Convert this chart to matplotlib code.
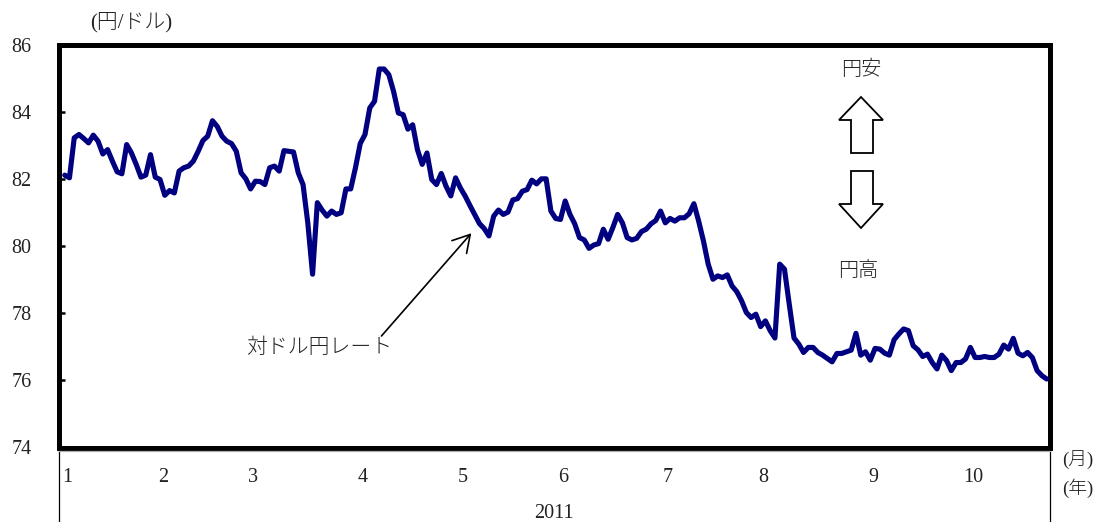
import matplotlib
matplotlib.use("Agg")
import matplotlib.pyplot as plt
from matplotlib.patches import Polygon
from matplotlib.lines import Line2D
from matplotlib.transforms import blended_transform_factory

# Daily yen per US dollar rate, Jan - Oct 2011 (one value per trading day)
rate = [
    82.11, 82.03, 83.22, 83.32, 83.20, 83.07, 83.30, 83.12, 82.74, 82.87,
    82.53, 82.21, 82.15, 83.02, 82.77, 82.43, 82.05, 82.11, 82.72, 82.05,
    81.98, 81.51, 81.65, 81.58, 82.23, 82.33, 82.38, 82.53, 82.82, 83.14,
    83.27, 83.73, 83.56, 83.27, 83.12, 83.05, 82.82, 82.18, 82.00, 81.70,
    81.93, 81.92, 81.83, 82.33, 82.38, 82.23, 82.84, 82.82, 82.80, 82.18,
    81.83, 80.69, 79.16, 81.29, 81.07, 80.89, 81.04, 80.94, 80.99, 81.70,
    81.70, 82.33, 83.05, 83.32, 84.11, 84.31, 85.27, 85.27, 85.10, 84.60,
    83.96, 83.91, 83.48, 83.61, 82.87, 82.43, 82.77, 81.98, 81.83, 82.16,
    81.78, 81.49, 82.03, 81.73, 81.49, 81.21, 80.94, 80.67, 80.52, 80.30,
    80.89, 81.07, 80.94, 81.01, 81.37, 81.41, 81.63, 81.68, 81.96, 81.85,
    82.00, 82.00, 81.04, 80.82, 80.79, 81.34, 80.94, 80.66, 80.25, 80.18,
    79.93, 80.03, 80.07, 80.50, 80.20, 80.55, 80.94, 80.69, 80.25, 80.18,
    80.23, 80.43, 80.50, 80.66, 80.76, 81.04, 80.69, 80.82, 80.74, 80.84,
    80.84, 80.96, 81.26, 80.74, 80.15, 79.46, 79.01, 79.11, 79.06, 79.14,
    78.81, 78.64, 78.37, 78.02, 77.87, 77.97, 77.60, 77.77, 77.48, 77.26,
    79.46, 79.31, 78.27, 77.26, 77.08, 76.83, 76.98, 76.98, 76.83, 76.75,
    76.65, 76.55, 76.80, 76.80, 76.85, 76.90, 77.40, 76.75, 76.85, 76.60,
    76.95, 76.93, 76.81, 76.75, 77.21, 77.38, 77.53, 77.48, 77.03, 76.91,
    76.71, 76.78, 76.53, 76.34, 76.75, 76.59, 76.29, 76.53, 76.53, 76.64,
    76.98, 76.68, 76.68, 76.71, 76.68, 76.68, 76.78, 77.05, 76.93, 77.25,
    76.81, 76.73, 76.83, 76.68, 76.29, 76.14, 76.04,
]

# First trading day of each month (index into rate) and its label
month_start = [0, 20, 39, 62, 83, 104, 126, 146, 169, 190]
month_labels = ["1", "2", "3", "4", "5", "6", "7", "8", "9", "10"]
year_label = "2011"
y_ticks = [74, 76, 78, 80, 82, 84, 86]

plt.rcParams["font.family"] = ["Liberation Serif", "Noto Sans CJK JP"]

W, H = 1110, 522
fig = plt.figure(figsize=(W / 100, H / 100), dpi=100)


def fx(px):
    return px / W


def fy(py):
    return 1 - py / H


TEXT = "#222222"
JP = dict(color=TEXT, fontweight="light")

ax = fig.add_axes([fx(58.5), fy(447.5), (1049.5 - 58.5) / W, (447.5 - 44.5) / H])
days = list(range(len(rate)))
ax.plot(days, rate, color="#000080", lw=3.7,
        solid_joinstyle="round", solid_capstyle="round", zorder=3)
ax.set_xlim(-1.3, len(rate) - 1 + 0.6)
ax.set_ylim(74, 86)
ax.set_yticks(y_ticks)
ax.set_yticklabels([str(t) for t in y_ticks])
ax.tick_params(axis="y", direction="in", length=4.5, width=1.8, pad=19.5,
               labelsize=14.5, colors="black", labelcolor=TEXT)
ax.set_xticks([])
for sp in ax.spines.values():
    sp.set_linewidth(3.6)
    sp.set_color("black")

# Month labels under the plot area
tx = blended_transform_factory(ax.transData, fig.transFigure)
for d, lab in zip(month_start, month_labels):
    ax.text(d + 0.6, fy(478), lab, transform=tx, ha="center", va="center",
            fontsize=14.5, color=TEXT)

ta = blended_transform_factory(ax.transAxes, fig.transFigure)
ax.text(0.5, fy(513), year_label, transform=ta, ha="center", va="center",
        fontsize=14.5, color=TEXT)

# Category group separators and the axis line below the frame
fig.add_artist(Line2D([fx(58.5), fx(58.5)], [fy(448), 0], color="black", lw=0.9))
fig.add_artist(Line2D([fx(1049.5), fx(1049.5)], [fy(448), 0], color="black", lw=0.9))
fig.add_artist(Line2D([fx(58.5), fx(1049.5)], [fy(451), fy(451)], color="#b0b0b0", lw=0.9))

# Unit labels
fig.text(fx(131), fy(22), "(円/ドル)", ha="center", va="center", fontsize=15, **JP)
fig.text(fx(1078), fy(460), "(月)", ha="center", va="center", fontsize=13.5, **JP)
fig.text(fx(1078), fy(488), "(年)", ha="center", va="center", fontsize=13.5, **JP)

# Direction indicators: weaker yen above, stronger yen below
fig.text(fx(861), fy(70), "円安", ha="center", va="center", fontsize=14.5, **JP)
fig.text(fx(858), fy(271), "円高", ha="center", va="center", fontsize=14.5, **JP)

up = [(861, 97), (883, 120), (873, 120), (873, 153), (851, 153), (851, 120), (839, 120)]
down = [(851, 171), (873, 171), (873, 204), (883, 204), (861, 228), (839, 204), (851, 204)]
for shape in (up, down):
    fig.add_artist(Polygon([(fx(x), fy(y)) for x, y in shape], closed=True,
                           facecolor="white", edgecolor="black", lw=1.3,
                           transform=fig.transFigure))

# Series label with pointer to the line
ax.text(53.3, 76.96, "対ドル円レート", ha="center", va="center", fontsize=15, **JP)
ax.annotate("", xy=(85.3, 80.38), xytext=(66.45, 77.32),
            arrowprops=dict(arrowstyle="->,head_length=0.6,head_width=0.35",
                            mutation_scale=20, lw=1.2, color="black",
                            shrinkA=0, shrinkB=0))

fig.savefig("out.png", dpi=100)
